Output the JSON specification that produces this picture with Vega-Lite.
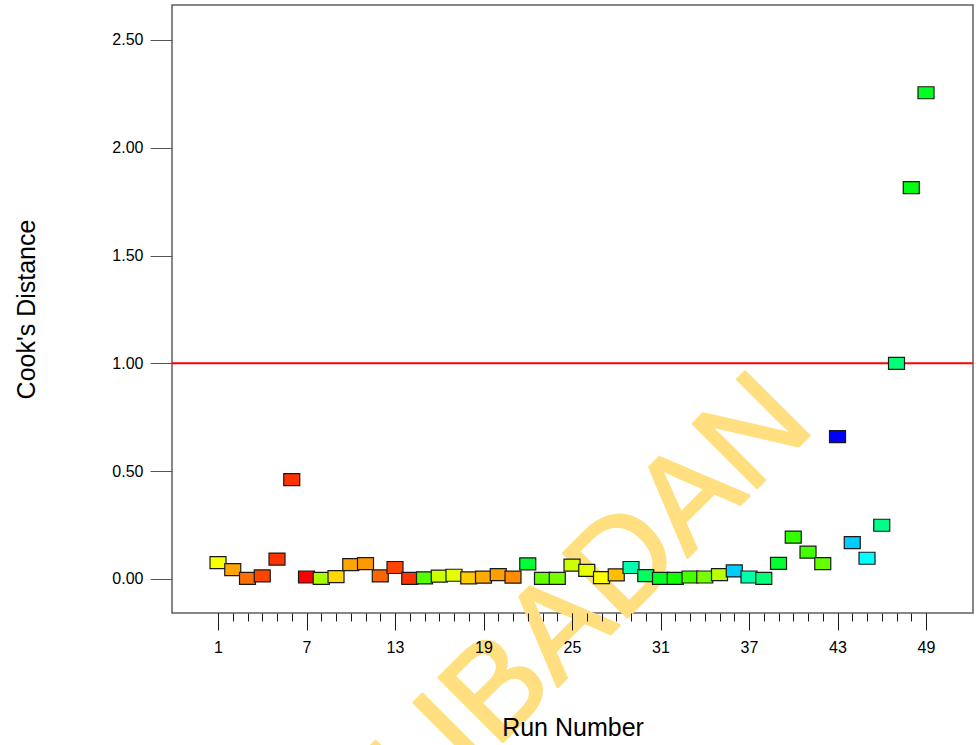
{
  "$schema": "https://vega.github.io/schema/vega-lite/v6.json",
  "width": 801,
  "height": 608,
  "autosize": {"type": "none"},
  "padding": {"left": 172, "top": 5, "right": 5, "bottom": 132},
  "background": "white",
  "config": {
    "font": "Liberation Sans",
    "view": {"stroke": "#5f5f5f", "strokeWidth": 1.5},
    "axis": {"grid": false, "domain": false, "labelColor": "#000000", "titleColor": "#000000", "titleFontWeight": "normal"}
  },
  "resolve": {"axis": {"x": "independent"}},
  "data": {
    "values": [
      {"run": 1, "cooks": 0.076, "level": 0.742},
      {"run": 2, "cooks": 0.043, "level": 0.838},
      {"run": 3, "cooks": 0.003, "level": 0.892},
      {"run": 4, "cooks": 0.014, "level": 0.933},
      {"run": 5, "cooks": 0.092, "level": 0.95},
      {"run": 6, "cooks": 0.461, "level": 0.95},
      {"run": 7, "cooks": 0.009, "level": 1.0},
      {"run": 8, "cooks": 0.003, "level": 0.665},
      {"run": 9, "cooks": 0.011, "level": 0.788},
      {"run": 10, "cooks": 0.066, "level": 0.838},
      {"run": 11, "cooks": 0.071, "level": 0.85},
      {"run": 12, "cooks": 0.014, "level": 0.9},
      {"run": 13, "cooks": 0.053, "level": 0.933},
      {"run": 14, "cooks": 0.003, "level": 0.95},
      {"run": 15, "cooks": 0.005, "level": 0.583},
      {"run": 16, "cooks": 0.013, "level": 0.7},
      {"run": 17, "cooks": 0.017, "level": 0.725},
      {"run": 18, "cooks": 0.005, "level": 0.8},
      {"run": 19, "cooks": 0.008, "level": 0.833},
      {"run": 20, "cooks": 0.02, "level": 0.843},
      {"run": 21, "cooks": 0.008, "level": 0.863},
      {"run": 22, "cooks": 0.07, "level": 0.45},
      {"run": 23, "cooks": 0.003, "level": 0.6},
      {"run": 24, "cooks": 0.003, "level": 0.617},
      {"run": 25, "cooks": 0.064, "level": 0.7},
      {"run": 26, "cooks": 0.04, "level": 0.725},
      {"run": 27, "cooks": 0.006, "level": 0.75},
      {"run": 28, "cooks": 0.019, "level": 0.8125},
      {"run": 29, "cooks": 0.053, "level": 0.329},
      {"run": 30, "cooks": 0.015, "level": 0.406},
      {"run": 31, "cooks": 0.003, "level": 0.467},
      {"run": 32, "cooks": 0.003, "level": 0.517},
      {"run": 33, "cooks": 0.009, "level": 0.567},
      {"run": 34, "cooks": 0.009, "level": 0.617},
      {"run": 35, "cooks": 0.02, "level": 0.683},
      {"run": 36, "cooks": 0.037, "level": 0.2},
      {"run": 37, "cooks": 0.009, "level": 0.333},
      {"run": 38, "cooks": 0.003, "level": 0.383},
      {"run": 39, "cooks": 0.072, "level": 0.45},
      {"run": 40, "cooks": 0.194, "level": 0.55},
      {"run": 41, "cooks": 0.124, "level": 0.567},
      {"run": 42, "cooks": 0.071, "level": 0.6},
      {"run": 43, "cooks": 0.66, "level": 0.0},
      {"run": 44, "cooks": 0.168, "level": 0.2},
      {"run": 45, "cooks": 0.096, "level": 0.25},
      {"run": 46, "cooks": 0.249, "level": 0.367},
      {"run": 47, "cooks": 1.0, "level": 0.383},
      {"run": 48, "cooks": 1.815, "level": 0.483},
      {"run": 49, "cooks": 2.255, "level": 0.467}
    ]
  },
  "layer": [
    {
      "data": {"values": [{"mark_text": "UNIVERSITY OF IBADAN", "run": 41.6, "cooks": 0.7}]},
      "mark": {
        "type": "text",
        "font": "Liberation Sans",
        "fontSize": 132,
        "angle": -45,
        "align": "right",
        "baseline": "alphabetic",
        "fill": "#ffdf80",
        "stroke": "#ffdf80",
        "strokeWidth": 2.5,
        "strokeJoin": "round"
      },
      "encoding": {
        "text": {"field": "mark_text"},
        "x": {
          "field": "run",
          "type": "quantitative",
          "axis": {
            "orient": "bottom",
            "values": [1, 7, 13, 19, 25, 31, 37, 43, 49],
            "format": "d",
            "labelOverlap": false,
            "labelFlush": false,
            "labelFontSize": 16,
            "labelPadding": 9,
            "tickSize": 17,
            "tickColor": "#1a1a1a",
            "tickWidth": 1,
            "title": "Run Number",
            "titleFontSize": 25,
            "titlePadding": 60,
            "zindex": 1
          }
        },
        "y": {"field": "cooks", "type": "quantitative"}
      }
    },
    {
      "data": {"values": [{"threshold": 1}]},
      "mark": {"type": "rule", "color": "#ff0000", "strokeWidth": 2},
      "encoding": {
        "y": {"field": "threshold", "type": "quantitative"}
      }
    },
    {
      "mark": {
        "type": "point",
        "shape": "M-1,-0.75H1V0.75H-1Z",
        "size": 256,
        "filled": true,
        "opacity": 1,
        "stroke": "#1a1a1a",
        "strokeWidth": 1.2
      },
      "encoding": {
        "x": {
          "field": "run",
          "type": "quantitative",
          "scale": {"domain": [-2.119, 52.186], "nice": false, "zero": false},
          "axis": {
            "orient": "bottom",
            "values": [1,2,3,4,5,6,7,8,9,10,11,12,13,14,15,16,17,18,19,20,21,22,23,24,25,26,27,28,29,30,31,32,33,34,35,36,37,38,39,40,41,42,43,44,45,46,47,48,49],
            "labels": false,
            "tickSize": 8,
            "tickColor": "#1a1a1a",
            "tickWidth": 1,
            "title": null,
            "zindex": 1
          }
        },
        "y": {
          "field": "cooks",
          "type": "quantitative",
          "scale": {"domain": [-0.158, 2.662], "nice": false, "zero": false},
          "axis": {
            "values": [0, 0.5, 1, 1.5, 2, 2.5],
            "format": ".2f",
            "labelFontSize": 16,
            "labelPadding": 7,
            "labelFlush": false,
            "tickSize": 22,
            "tickColor": "#555555",
            "tickWidth": 1,
            "title": "Cook's Distance",
            "titleFontSize": 25,
            "titlePadding": 72,
            "zindex": 1
          }
        },
        "color": {
          "field": "level",
          "type": "quantitative",
          "scale": {
            "domain": [0, 0.25, 0.5, 0.75, 1],
            "range": ["#0000ff", "#00ffff", "#00ff00", "#ffff00", "#ff0000"],
            "interpolate": "rgb"
          },
          "legend": null
        }
      }
    }
  ]
}
